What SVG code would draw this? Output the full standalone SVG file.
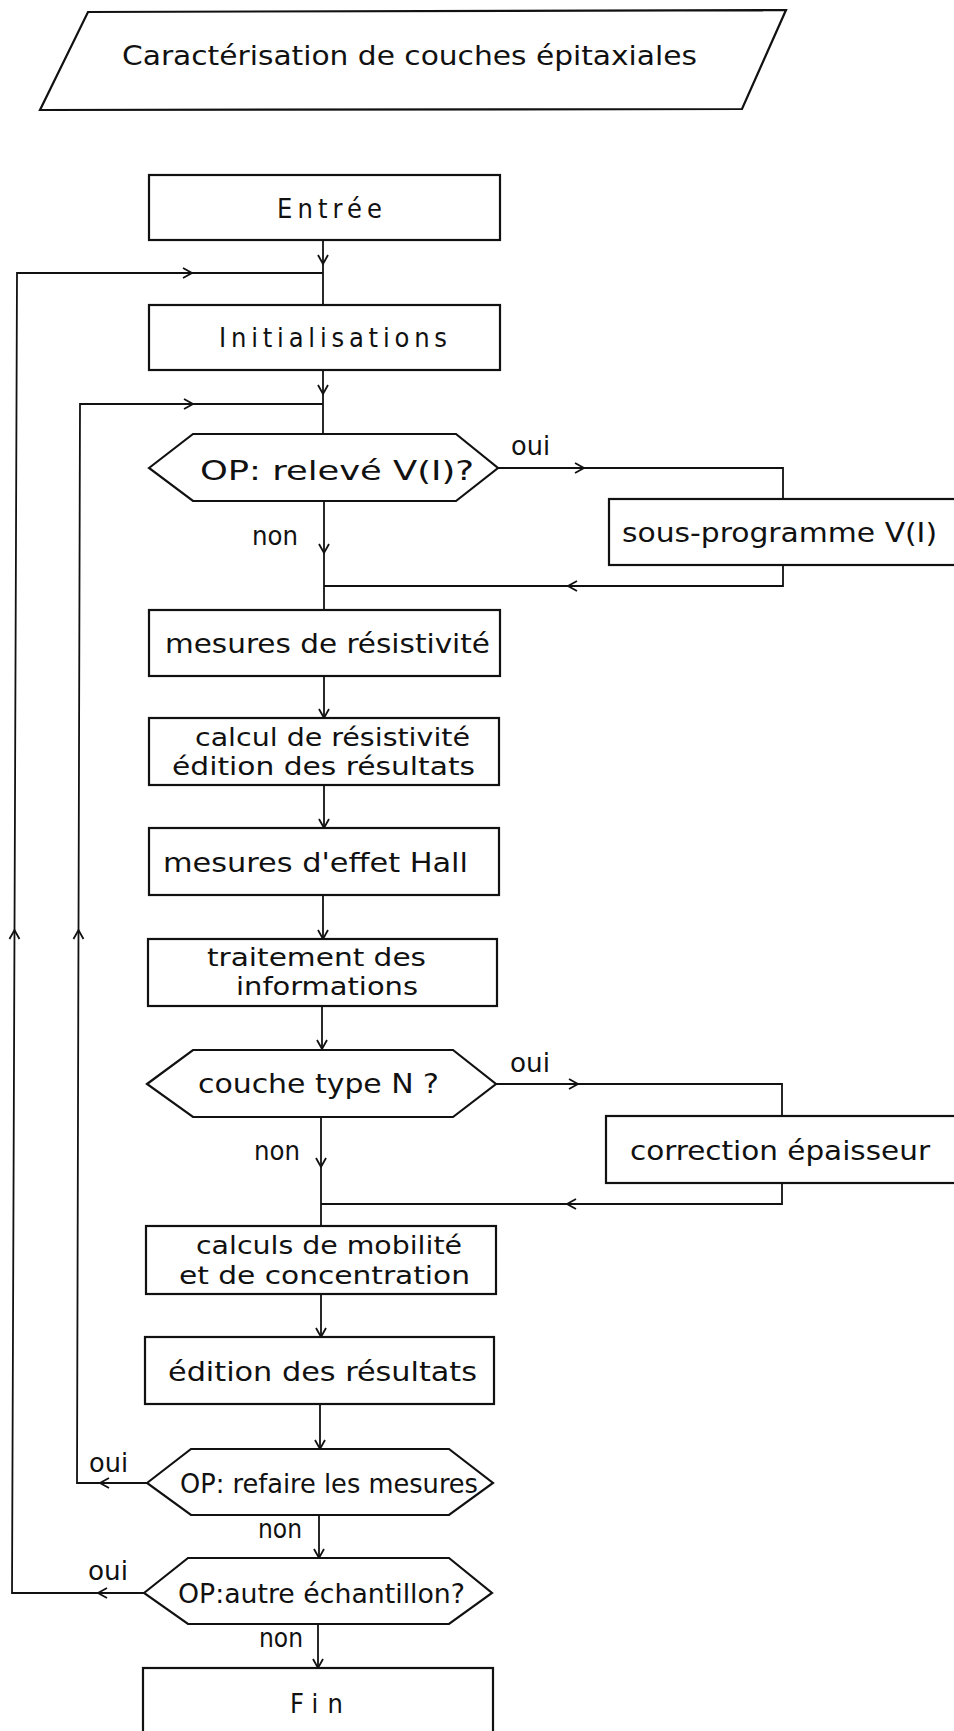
<svg xmlns="http://www.w3.org/2000/svg" width="954" height="1731" viewBox="0 0 954 1731">
  <style>
    .shape { fill: #fff; stroke: #111; stroke-width: 2.2; stroke-linejoin: miter; }
    .wire { fill: none; stroke: #111; stroke-width: 1.8; }
    .lbl { font-family: "DejaVu Sans", "Liberation Sans", sans-serif; font-stretch: condensed; font-size: 27px; fill: #111; }
    .lbl2 { font-family: "DejaVu Sans", "Liberation Sans", sans-serif; font-stretch: condensed; font-size: 24px; fill: #111; }
    .tag { font-family: "DejaVu Sans", "Liberation Sans", sans-serif; font-stretch: condensed; font-size: 26px; fill: #111; }
  </style>
  <defs>
    <!-- open V arrowhead, tip at the end of the segment -->
    <marker id="arr" viewBox="-11 -6 12 12" refX="0" refY="0" markerWidth="12" markerHeight="12" markerUnits="userSpaceOnUse" orient="auto" overflow="visible">
      <path d="M-9,-5 L0,0 L-9,5" fill="none" stroke="#111" stroke-width="1.8"/>
    </marker>
  </defs>
  <rect width="954" height="1731" fill="#fff"/>

  <!-- title banner -->
  <g id="title">
    <polygon class="shape" points="88,12 786,10 742,109 40,110"/>
    <text class="lbl" x="122" y="65" textLength="575" lengthAdjust="spacingAndGlyphs">Caractérisation de couches épitaxiales</text>
  </g>

  <!-- connectors -->
  <g id="connectors">
    <!-- Entrée -> Initialisations -->
    <path class="wire" d="M323,240 V264" marker-end="url(#arr)"/>
    <path class="wire" d="M323,264 V305"/>
    <!-- outer loop: autre échantillon -> Initialisations -->
    <path class="wire" d="M144,1593 H98" marker-end="url(#arr)"/>
    <path class="wire" d="M98,1593 H12 L14.5,930" marker-end="url(#arr)"/>
    <path class="wire" d="M14.5,930 L17,273 H192" marker-end="url(#arr)"/>
    <path class="wire" d="M192,273 H323"/>
    <!-- Initialisations -> relevé V(I) -->
    <path class="wire" d="M323,370 V394" marker-end="url(#arr)"/>
    <path class="wire" d="M323,394 V434"/>
    <!-- inner loop: refaire les mesures -> relevé V(I) -->
    <path class="wire" d="M147,1483 H100" marker-end="url(#arr)"/>
    <path class="wire" d="M100,1483 H77 L78.5,930" marker-end="url(#arr)"/>
    <path class="wire" d="M78.5,930 L80,404 H193" marker-end="url(#arr)"/>
    <path class="wire" d="M193,404 H323"/>
    <!-- relevé V(I): oui branch -->
    <path class="wire" d="M498,468 H584" marker-end="url(#arr)"/>
    <path class="wire" d="M584,468 H783 V499"/>
    <path class="wire" d="M783,565 V586 H568" marker-end="url(#arr)"/>
    <path class="wire" d="M568,586 H324"/>
    <!-- relevé V(I): non branch -->
    <path class="wire" d="M324,501 V553" marker-end="url(#arr)"/>
    <path class="wire" d="M324,553 V610"/>
    <!-- main sequence -->
    <path class="wire" d="M324,676 V718" marker-end="url(#arr)"/>
    <path class="wire" d="M324,785 V828" marker-end="url(#arr)"/>
    <path class="wire" d="M323,895 V939" marker-end="url(#arr)"/>
    <path class="wire" d="M322,1006 V1049" marker-end="url(#arr)"/>
    <!-- couche type N: oui branch -->
    <path class="wire" d="M496,1084 H578" marker-end="url(#arr)"/>
    <path class="wire" d="M578,1084 H782 V1116"/>
    <path class="wire" d="M782,1183 V1204 H567" marker-end="url(#arr)"/>
    <path class="wire" d="M567,1204 H321"/>
    <!-- couche type N: non branch -->
    <path class="wire" d="M321,1117 V1167" marker-end="url(#arr)"/>
    <path class="wire" d="M321,1167 V1226"/>
    <path class="wire" d="M321,1294 V1337" marker-end="url(#arr)"/>
    <path class="wire" d="M320,1404 V1449" marker-end="url(#arr)"/>
    <path class="wire" d="M319,1515 V1558" marker-end="url(#arr)"/>
    <path class="wire" d="M318,1624 V1668" marker-end="url(#arr)"/>
    <!-- branch labels -->
    <text class="tag" x="511" y="455" textLength="39" lengthAdjust="spacingAndGlyphs">oui</text>
    <text class="tag" x="252" y="545" textLength="46" lengthAdjust="spacingAndGlyphs">non</text>
    <text class="tag" x="510" y="1072" textLength="40" lengthAdjust="spacingAndGlyphs">oui</text>
    <text class="tag" x="254" y="1160" textLength="46" lengthAdjust="spacingAndGlyphs">non</text>
    <text class="tag" x="89" y="1472" textLength="39" lengthAdjust="spacingAndGlyphs">oui</text>
    <text class="tag" x="258" y="1538" textLength="44" lengthAdjust="spacingAndGlyphs">non</text>
    <text class="tag" x="88" y="1580" textLength="40" lengthAdjust="spacingAndGlyphs">oui</text>
    <text class="tag" x="259" y="1647" textLength="44" lengthAdjust="spacingAndGlyphs">non</text>
  </g>

  <!-- nodes -->
  <g id="entree">
    <rect class="shape" x="149" y="175" width="351" height="65"/>
    <text class="lbl" x="277" y="218" textLength="105">Entrée</text>
  </g>
  <g id="initialisations">
    <rect class="shape" x="149" y="305" width="351" height="65"/>
    <text class="lbl" x="219" y="347" textLength="228">Initialisations</text>
  </g>
  <g id="releve-vi">
    <polygon class="shape" points="149,468 193,434 456,434 498,468 456,501 193,501"/>
    <text class="lbl" x="200" y="480" textLength="274" lengthAdjust="spacingAndGlyphs">OP: relevé V(I)?</text>
  </g>
  <g id="sous-programme">
    <rect class="shape" x="609" y="499" width="360" height="66"/>
    <text class="lbl" x="622" y="542" textLength="315" lengthAdjust="spacingAndGlyphs">sous-programme V(I)</text>
  </g>
  <g id="mesures-resistivite">
    <rect class="shape" x="149" y="610" width="351" height="66"/>
    <text class="lbl" x="165" y="653" textLength="325" lengthAdjust="spacingAndGlyphs">mesures de résistivité</text>
  </g>
  <g id="calcul-resistivite">
    <rect class="shape" x="149" y="718" width="350" height="67"/>
    <text class="lbl2" x="195" y="746" textLength="275" lengthAdjust="spacingAndGlyphs">calcul de résistivité</text>
    <text class="lbl2" x="172" y="775" textLength="303" lengthAdjust="spacingAndGlyphs">édition des résultats</text>
  </g>
  <g id="effet-hall">
    <rect class="shape" x="149" y="828" width="350" height="67"/>
    <text class="lbl" x="163" y="872" textLength="305" lengthAdjust="spacingAndGlyphs">mesures d'effet Hall</text>
  </g>
  <g id="traitement">
    <rect class="shape" x="148" y="939" width="349" height="67"/>
    <text class="lbl2" x="207" y="966" textLength="219" lengthAdjust="spacingAndGlyphs">traitement des</text>
    <text class="lbl2" x="236" y="995" textLength="182" lengthAdjust="spacingAndGlyphs">informations</text>
  </g>
  <g id="couche-type-n">
    <polygon class="shape" points="147,1084 193,1050 453,1050 496,1084 453,1117 193,1117"/>
    <text class="lbl" x="198" y="1093" textLength="241" lengthAdjust="spacingAndGlyphs">couche type N ?</text>
  </g>
  <g id="correction-epaisseur">
    <rect class="shape" x="606" y="1116" width="360" height="67"/>
    <text class="lbl" x="630" y="1160" textLength="300" lengthAdjust="spacingAndGlyphs">correction épaisseur</text>
  </g>
  <g id="calculs-mobilite">
    <rect class="shape" x="146" y="1226" width="350" height="68"/>
    <text class="lbl2" x="196" y="1254" textLength="266" lengthAdjust="spacingAndGlyphs">calculs de mobilité</text>
    <text class="lbl2" x="179" y="1284" textLength="291" lengthAdjust="spacingAndGlyphs">et de concentration</text>
  </g>
  <g id="edition-resultats">
    <rect class="shape" x="145" y="1337" width="349" height="67"/>
    <text class="lbl" x="168" y="1381" textLength="309" lengthAdjust="spacingAndGlyphs">édition des résultats</text>
  </g>
  <g id="refaire-mesures">
    <polygon class="shape" points="147,1483 191,1449 449,1449 493,1483 449,1515 191,1515"/>
    <text class="lbl" x="180" y="1493" textLength="298" lengthAdjust="spacingAndGlyphs">OP: refaire les mesures</text>
  </g>
  <g id="autre-echantillon">
    <polygon class="shape" points="144,1593 188,1558 449,1558 492,1593 449,1624 188,1624"/>
    <text class="lbl" x="178" y="1603" textLength="287" lengthAdjust="spacingAndGlyphs">OP:autre échantillon?</text>
  </g>
  <g id="fin">
    <rect class="shape" x="143" y="1668" width="350" height="90"/>
    <text class="lbl" x="290" y="1713" textLength="53">Fin</text>
  </g>
</svg>
